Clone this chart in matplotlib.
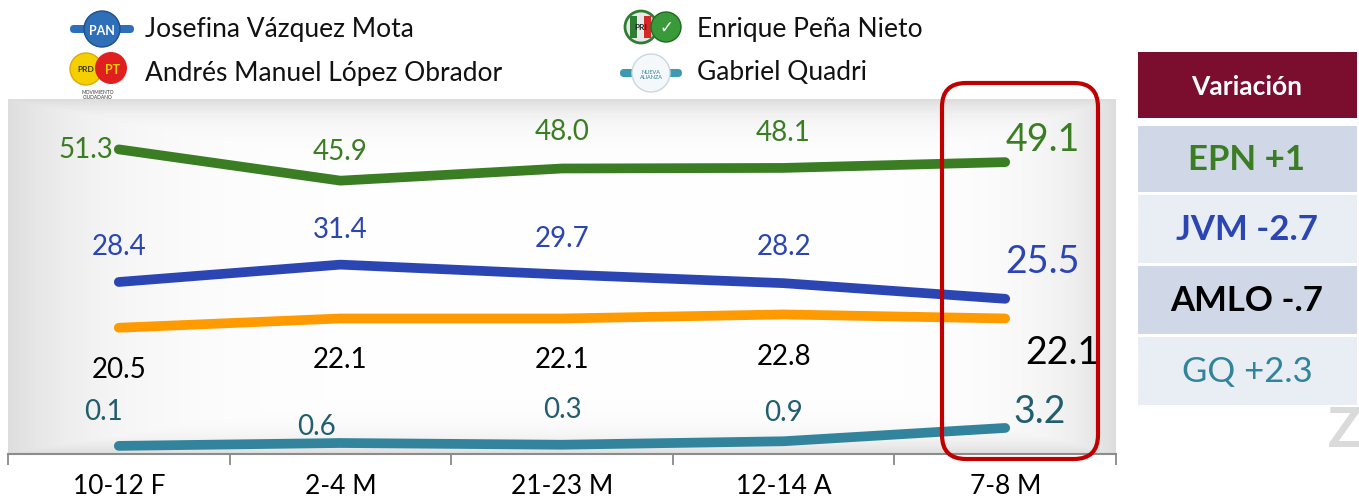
"""Encuesta: preferencia presidencial por candidato, 5 levantamientos."""

import numpy as np
import matplotlib
matplotlib.use("Agg")
import matplotlib.pyplot as plt
from matplotlib.patches import FancyBboxPatch, Rectangle, Circle

plt.rcParams["font.family"] = ["Lato", "DejaVu Sans"]

# --- data ---------------------------------------------------------------
fechas = ["10-12 F", "2-4 M", "21-23 M", "12-14 A", "7-8 M"]
epn = [51.3, 45.9, 48.0, 48.1, 49.1]
jvm = [28.4, 31.4, 29.7, 28.2, 25.5]
amlo = [20.5, 22.1, 22.1, 22.8, 22.1]
gq = [0.1, 0.6, 0.3, 0.9, 3.2]

candidatos = ["Josefina Vázquez Mota", "Enrique Peña Nieto",
              "Andrés Manuel López Obrador", "Gabriel Quadri"]
variacion = ["EPN +1", "JVM -2.7", "AMLO -.7", "GQ +2.3"]

# --- colours ------------------------------------------------------------
C_EPN, C_EPN_TXT = "#3A7D22", "#3A7D22"
C_JVM, C_JVM_TXT = "#2B45B3", "#2B45B3"
C_AMLO, C_AMLO_TXT = "#FF9A00", "#000000"
C_GQ, C_GQ_TXT = "#31849B", "#215E6E"

W, H = 1359, 502
fig = plt.figure(figsize=(W / 100, H / 100), dpi=100)

# main chart axes (pixel box: x 8..1116, y 100..455)
ax = fig.add_axes([8 / W, 1 - 455 / H, (1116 - 8) / W, (455 - 100) / H])
x = np.arange(len(fechas))
ax.set_xlim(-0.5, len(fechas) - 0.5)
ax.set_ylim(-1.3, 60)

# gray gradient background: darker at left/right edges and along the top
gx = np.linspace(0, 1108, 400)
gy = np.linspace(0, 355, 200)
left = np.exp(-gx / 90)
right = np.exp(-(1108 - gx) / 60)
top = np.exp(-gy / 18)
bottom = np.exp(-(355 - gy) / 15)
dark = np.maximum(np.maximum(left, right)[None, :], np.maximum(top, bottom)[:, None])
shade = 1.0 - 0.13 * dark
ax.imshow(np.dstack([shade] * 3), extent=(-0.5, 4.5, -1.3, 60),
          aspect="auto", zorder=0, origin="upper", interpolation="bilinear")

lw = 7
for vals, col in [(epn, C_EPN), (jvm, C_JVM), (amlo, C_AMLO), (gq, C_GQ)]:
    ax.plot(x, vals, color=col, lw=lw, solid_capstyle="round",
            solid_joinstyle="round", zorder=3)

# data labels (offsets in points)
def etiquetas(vals, offs, color, last_off, ha_first="center"):
    for i, v in enumerate(vals):
        last = i == len(vals) - 1
        ax.annotate(f"{v:.1f}", (x[i], v),
                    xytext=last_off if last else offs[i], textcoords="offset points",
                    ha=ha_first if i == 0 else "center", va="center", color=color,
                    fontsize=27 if last else 20, zorder=4)

etiquetas(epn, [(-4, 0), (0, 21), (0, 27), (0, 26)], C_EPN_TXT, (27, 17), ha_first="right")
etiquetas(jvm, [(0, 26), (0, 26), (0, 26), (0, 27)], C_JVM_TXT, (27, 27))
etiquetas(amlo, [(0, -30), (0, -29), (0, -29), (0, -30)], C_AMLO_TXT, (41, -24))
etiquetas(gq, [(-11, 25), (-17, 12), (0, 26), (0, 21)], C_GQ_TXT, (25, 12))

ax.set_xticks(np.arange(-0.5, len(fechas), 1.0))
ax.set_xticklabels([])
ax.set_xticks(x, minor=True)
ax.set_xticklabels(fechas, minor=True, fontsize=19)
ax.tick_params(axis="x", which="major", length=8, color="#7F7F7F", width=1.2)
ax.tick_params(axis="x", which="minor", length=0, pad=14)
ax.set_yticks([])
for s in ["top", "left", "right"]:
    ax.spines[s].set_visible(False)
ax.spines["bottom"].set_color("#8C8C8C")
ax.spines["bottom"].set_linewidth(1.5)

# overlay in pixel coordinates for legend, highlight box and table
ov = fig.add_axes([0, 0, 1, 1], zorder=5)
ov.set_xlim(0, W)
ov.set_ylim(H, 0)
ov.axis("off")
ov.patch.set_alpha(0)

# legend
pos = [(145, 29), (697, 29), (145, 73), (697, 73)]
for (tx, ty), name in zip(pos, candidatos):
    ov.text(tx, ty, name, fontsize=19, va="center", ha="left", color="#111111")

# PAN icon
ov.add_patch(FancyBboxPatch((70, 26), 64, 8, boxstyle="round,pad=0,rounding_size=4",
                            fc="#2F6FB8", ec="none"))
ov.add_patch(Circle((102, 30), 18, fc="#2F6FB8", ec="#1D4F8F", lw=1))
ov.text(102, 31, "PAN", color="white", fontsize=9, fontweight="bold", ha="center", va="center")
# PRI / PVEM icon
ov.add_patch(Circle((641, 28), 16, fc="#E8E8E8", ec="#2E7D32", lw=2))
ov.add_patch(Rectangle((630, 17), 7, 22, fc="#2E7D32", ec="none"))
ov.add_patch(Rectangle((644, 17), 7, 22, fc="#D62828", ec="none"))
ov.text(641, 28, "PRI", fontsize=6, fontweight="bold", ha="center", va="center", color="#222")
ov.add_patch(Circle((666, 28), 15, fc="#3A9A3A", ec="#1E6B1E", lw=1))
ov.text(666, 28, "✓", fontsize=12, ha="center", va="center", color="white",
        family=["DejaVu Sans"])
# PRD / PT / MC icon
ov.add_patch(Circle((86, 70), 16, fc="#F5D000", ec="#E0A800", lw=1))
ov.add_patch(Circle((111, 69), 16, fc="#E02020", ec="none"))
ov.text(86, 70, "PRD", fontsize=6, fontweight="bold", ha="center", va="center", color="#333")
ov.text(112, 70, "PT", fontsize=9, fontweight="bold", ha="center", va="center", color="#F5D000")
ov.text(98, 95, "MOVIMIENTO\nCIUDADANO", fontsize=3.5, ha="center", va="center",
        color="#333", linespacing=0.9)
# Nueva Alianza icon
ov.add_patch(FancyBboxPatch((620, 70), 62, 8, boxstyle="round,pad=0,rounding_size=4",
                            fc="#3E9AB0", ec="none"))
ov.add_patch(Circle((651, 74), 19, fc="#F4F8FA", ec="#C8D8DE", lw=1))
ov.text(651, 75, "NUEVA\nALIANZA", fontsize=4, ha="center", va="center", color="#2F7E95",
        linespacing=0.9)

# highlight box around the last survey
ov.add_patch(FancyBboxPatch((942, 84), 156, 376, boxstyle="round,pad=0,rounding_size=24",
                            fc="none", ec="#C00000", lw=3))

# variation table
ov.add_patch(Rectangle((1138, 53), 219, 66, fc="#7B0D2E", ec="none"))
ov.text(1247, 87, "Variación", color="white", fontsize=19, fontweight="bold",
        ha="center", va="center")
filas = [(127, 193), (196, 264), (267, 335), (338, 406)]
fondos = ["#D0D8E8", "#E9EDF4", "#D0D8E8", "#E9EDF4"]
colores = [C_EPN_TXT, C_JVM_TXT, "#000000", "#31849B"]
pesos = ["bold", "bold", "bold", "normal"]
for (y0, y1), txt, fc, tc, fw in zip(filas, variacion, fondos, colores, pesos):
    ov.add_patch(Rectangle((1138, y0), 219, y1 - y0, fc=fc, ec="none"))
    ov.text(1247, (y0 + y1) / 2, txt, color=tc, fontsize=25, fontweight=fw,
            ha="center", va="center")

# faint watermark letter at the right edge
ov.text(1328, 431, "Z", color="#DADADA", fontsize=40, fontweight="bold",
        ha="left", va="center", clip_on=True)

fig.savefig("out.png", dpi=100)
